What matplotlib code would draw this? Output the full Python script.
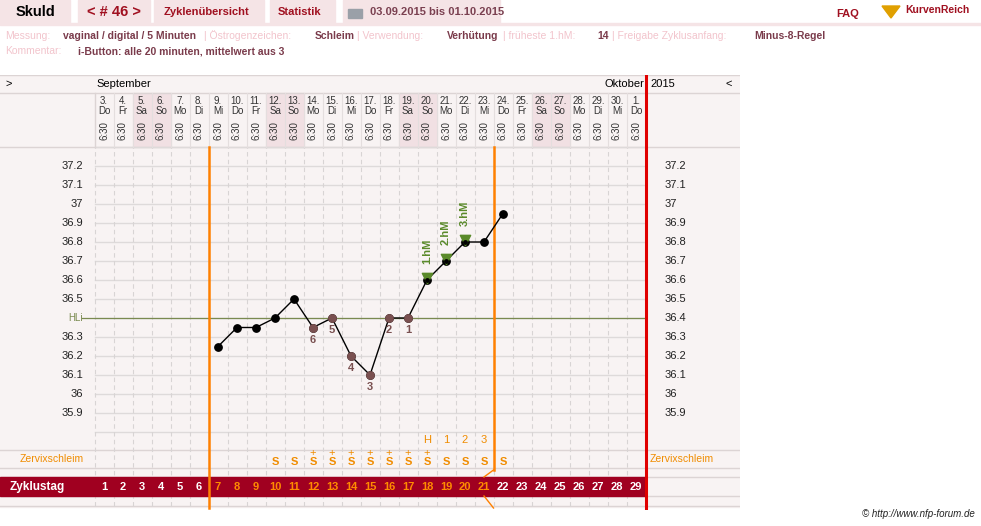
import matplotlib
matplotlib.use("Agg")
import matplotlib.pyplot as plt
from matplotlib.patches import Rectangle, Polygon

plt.rcParams['font.family'] = ['Liberation Sans', 'DejaVu Sans']

dates = ["3.","4.","5.","6.","7.","8.","9.","10.","11.","12.","13.","14.","15.","16.","17.","18.","19.","20.","21.","22.","23.","24.","25.","26.","27.","28.","29.","30.","1."]
weekdays = ["Do","Fr","Sa","So","Mo","Di","Mi","Do","Fr","Sa","So","Mo","Di","Mi","Do","Fr","Sa","So","Mo","Di","Mi","Do","Fr","Sa","So","Mo","Di","Mi","Do"]
times = ["6:30"]*29
temp_days = [7,8,9,10,11,12,13,14,15,16,17,18,19,20,21,22]
temps = [36.25,36.35,36.35,36.4,36.5,36.35,36.4,36.2,36.1,36.4,36.4,36.6,36.7,36.8,36.8,36.95]
low_days = [12,13,14,15,16,17]
low_labels = ["6","5","4","3","2","1"]
high_days = [18,19,20]
high_labels = ["1.hM","2.hM","3.hM"]
hl = 36.4
mucus_days = list(range(10,23))
plus_days = [12,13,14,15,16,17,18]
peak_days = [18,19,20,21]
peak_labels = ["H","1","2","3"]
yticks = [37.2,37.1,37.0,36.9,36.8,36.7,36.6,36.5,36.4,36.3,36.2,36.1,36.0,35.9]
ytick_labels = ["37.2","37.1","37","36.9","36.8","36.7","36.6","36.5","36.4","36.3","36.2","36.1","36","35.9"]

W, H = 981, 526
fig = plt.figure(figsize=(W/100, H/100), dpi=100)
fig.patch.set_facecolor('white')

def fx(x): return x/W
def fy(y): return 1-y/H

ax = fig.add_axes([fx(0), fy(510), fx(740), (510-75)/H])
px_per_day = 19.0
x0 = 1 - 104/px_per_day
ax.set_xlim(x0, x0 + 740/px_per_day)
def py2t(p): return 37.2 - (p-166)/190.0
ax.set_ylim(py2t(510), py2t(75))
ax.axis('off')
def T(p): return py2t(p)
def X(p): return x0 + p/px_per_day

bg = '#f8f3f3'
ax.add_patch(Rectangle((x0, T(507)), 740/px_per_day, T(75)-T(507), color=bg, zorder=0))
for i, wd in enumerate(weekdays):
    if wd in ("Sa", "So"):
        d = i+1
        ax.add_patch(Rectangle((d-0.5, T(147)), 1, T(93)-T(147), color='#f1e0e3', zorder=0.5))
for p in [75, 93, 147, 450, 468, 477, 496, 506]:
    ax.plot([x0, X(740)], [T(p), T(p)], color='#dcd4d4', lw=1, zorder=1)
ax.plot([0.5, 0.5], [T(93), T(147)], color='#dcd4d4', lw=1)
for k in range(17):
    tt = round(37.4 - k*0.1, 1)
    if T(450) < tt < T(147):
        ax.plot([0.5, 29.5], [tt, tt], color='#dedada', lw=1, zorder=1)
for d in range(0, 30):
    ax.plot([d+0.5, d+0.5], [T(506), T(147)], color='#d8d4d4', lw=0.8, ls=(0, (4, 3)), zorder=1)
    if d > 0:
        ax.plot([d+0.5, d+0.5], [T(147), T(93)], color='#e4dede', lw=0.8, zorder=1)

ax.add_patch(Rectangle((x0, T(496)), 645/px_per_day, T(477)-T(496), color='#a00020', zorder=2))
ax.text(X(10), T(487), "Zyklustag", color='white', fontsize=8.5, fontweight='bold', va='center', zorder=3)
for d in range(1, 30):
    c = '#ff8c00' if 7 <= d <= 21 else 'white'
    ax.text(d, T(487), str(d), color=c, fontsize=8, fontweight='bold', ha='center', va='center', zorder=3)

ax.plot([6.5, 6.5], [T(508), T(147)], color='#ff8000', lw=1.8, zorder=3)
ax.plot([21.5, 21.5], [T(470), T(147)], color='#ff8000', lw=1.8, zorder=3)
ax.plot([21.5, 21.0], [T(470), T(477)], color='#ff8000', lw=1, zorder=3)
ax.plot([21.0, 21.5], [T(496), T(508)], color='#ff8000', lw=1, zorder=3)
ax.plot([29.5, 29.5], [T(508), T(75)], color='#e00000', lw=2.2, zorder=3)

ax.plot([X(82), 29.5], [hl, hl], color='#7a8a50', lw=0.9, zorder=2)
ax.text(X(68), hl, "HLi", color='#7a8a50', fontsize=7, va='center')

for tt, lab in zip(yticks, ytick_labels):
    if tt != hl:
        ax.text(X(83), tt, lab, fontsize=8, ha='right', va='center', color='#222222')
    ax.text(X(665), tt, lab, fontsize=8, ha='left', va='center', color='#222222')

ax.text(X(5), T(84), ">", fontsize=8, va='center')
ax.text(X(96), T(84), "September", fontsize=8, va='center')
ax.text(29.45, T(84), "Oktober", fontsize=8, va='center', ha='right')
ax.text(X(650), T(84), "2015", fontsize=8, va='center')
ax.text(X(725), T(84), "<", fontsize=8, va='center')
for i in range(29):
    d = i+1
    ax.text(d, T(101), dates[i], fontsize=7, ha='center', va='center', color='#333333')
    ax.text(d, T(111), weekdays[i], fontsize=7, ha='center', va='center', color='#333333')
    ax.text(d, T(131), times[i], fontsize=7, ha='center', va='center', rotation=90, color='#333333')

ax.plot(temp_days, temps, color='black', lw=1, zorder=4)
ax.scatter(temp_days, temps, s=28, color='black', zorder=5)
lowt = [temps[temp_days.index(d)] for d in low_days]
ax.scatter(low_days, lowt, s=28, color='#7a5050', zorder=6)
for d, v, lab in zip(low_days, lowt, low_labels):
    ax.text(d, v-0.065, lab, color='#7a5050', fontsize=8, fontweight='bold', ha='center', va='center', zorder=6)
hight = [temps[temp_days.index(d)] for d in high_days]
ax.scatter(high_days, [v+0.012 for v in hight], s=55, marker='v', color='#5a8a2a', zorder=6)
ax.scatter(high_days, hight, s=6, color='black', zorder=7)
for d, v, lab in zip(high_days, hight, high_labels):
    ax.text(d, v+0.085, lab, color='#5a8a2a', fontsize=8, fontweight='bold', ha='center', va='bottom', rotation=90, zorder=6)

orange = '#f08c00'
ax.text(X(20), T(459), "Zervixschleim", color=orange, fontsize=7.5, va='center')
ax.text(X(650), T(459), "Zervixschleim", color=orange, fontsize=7.5, va='center')
for d in mucus_days:
    ax.text(d, T(462), "S", color=orange, fontsize=8, fontweight='bold', ha='center', va='center')
for d in plus_days:
    ax.text(d, T(453), "+", color=orange, fontsize=8, ha='center', va='center')
for d, lab in zip(peak_days, peak_labels):
    ax.text(d, T(440), lab, color=orange, fontsize=8, ha='center', va='center')

tabbg = '#f5e4e6'
for (a, b) in [(0, 70), (78, 150), (154, 264), (270, 335), (343, 500)]:
    fig.patches.append(Rectangle((fx(a), fy(23)), fx(b-a), 23/H, transform=fig.transFigure, color=tabbg, zorder=0))
fig.patches.append(Rectangle((0, fy(25)), 1, 2/H, transform=fig.transFigure, color='#f5e4e6', zorder=0))
dark = '#a01020'
fig.text(fx(35), fy(12), "Skuld", fontsize=10.5, fontweight='bold', ha='center', va='center', color='black')
fig.text(fx(114), fy(12), "< # 46 >", fontsize=10.5, fontweight='bold', ha='center', va='center', color=dark)
fig.text(fx(207), fy(12), "Zyklenübersicht", fontsize=8, fontweight='bold', ha='center', va='center', color=dark)
fig.text(fx(300), fy(12), "Statistik", fontsize=8, fontweight='bold', ha='center', va='center', color=dark)
fig.patches.append(Rectangle((fx(348), fy(18)), fx(14), 9/H, transform=fig.transFigure, color='#9aa0a8'))
fig.text(fx(370), fy(12), "03.09.2015 bis 01.10.2015", fontsize=8, fontweight='bold', va='center', color='#7a4050')
fig.text(fx(836), fy(14), "FAQ", fontsize=8, fontweight='bold', va='center', color=dark)
fig.text(fx(905), fy(10), "KurvenReich", fontsize=7.5, fontweight='bold', va='center', color=dark)
fig.patches.append(Polygon([[fx(882), fy(6)], [fx(900), fy(6)], [fx(891), fy(18)]], closed=True, transform=fig.transFigure, color='#e0a000'))

lab_c = '#f2c4cc'
val_c = '#7a3b4b'
row1 = [(5, "Messung:", lab_c), (63, "vaginal / digital / 5 Minuten", val_c), (204, "| Östrogenzeichen:", lab_c),
        (315, "Schleim", val_c), (357, "| Verwendung:", lab_c), (447, "Verhütung", val_c),
        (503, "| früheste 1.hM:", lab_c), (597, "14", val_c), (612, "| Freigabe Zyklusanfang:", lab_c), (754, "Minus-8-Regel", val_c)]
for x, s, c in row1:
    fig.text(fx(x), fy(36), s, fontsize=7.5, fontweight='bold' if c == val_c else 'normal', va='center', color=c)
fig.text(fx(5), fy(51), "Kommentar:", fontsize=7.5, va='center', color=lab_c)
fig.text(fx(78), fy(51), "i-Button: alle 20 minuten, mittelwert aus 3", fontsize=7.5, fontweight='bold', va='center', color=val_c)
fig.text(fx(975), fy(514), "© http://www.nfp-forum.de", fontsize=7, style='italic', ha='right', va='center', color='#222222')

fig.savefig("out.png", dpi=100)
